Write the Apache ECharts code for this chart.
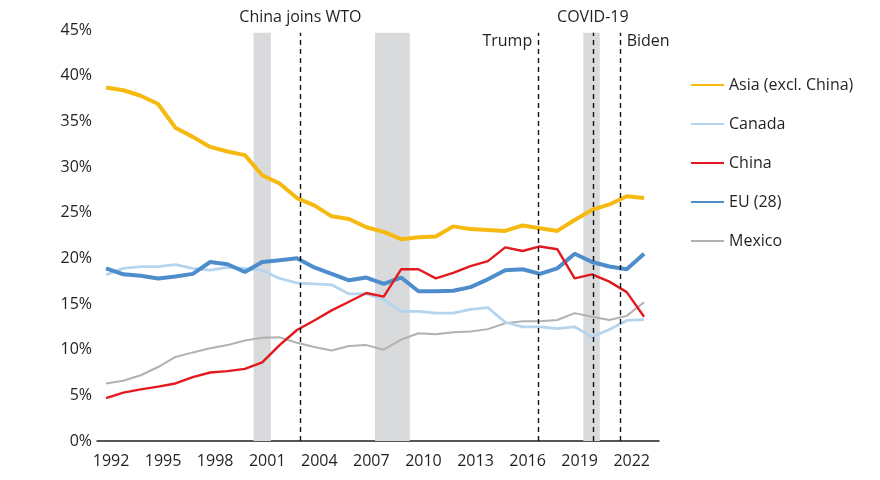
<!DOCTYPE html>
<html lang="en">
<head>
<meta charset="UTF-8">
<title>US import shares</title>
<style>html,body{margin:0;padding:0;background:#fff}</style>
</head>
<body>
<div id="chart" style="width:880px;height:480px"></div>
<script src="https://cdn.jsdelivr.net/npm/echarts@6/dist/echarts.min.js"></script>
<script>
var years = [1992, 1993, 1994, 1995, 1996, 1997, 1998, 1999, 2000, 2001, 2002, 2003,
             2004, 2005, 2006, 2007, 2008, 2009, 2010, 2011, 2012, 2013, 2014,
             2015, 2016, 2017, 2018, 2019, 2020, 2021, 2022, 2023];
var yearTicks = [1992, 1995, 1998, 2001, 2004, 2007, 2010, 2013, 2016, 2019, 2022];

var asia   = [38.7, 38.4, 37.8, 36.9, 34.3, 33.3, 32.2, 31.7, 31.3, 29.1, 28.2, 26.6,
              25.8, 24.6, 24.3, 23.4, 22.9, 22.1, 22.3, 22.4, 23.5, 23.2, 23.1,
              23.0, 23.6, 23.3, 23.0, 24.2, 25.3, 25.9, 26.8, 26.6];
var canada = [18.2, 18.9, 19.1, 19.1, 19.3, 18.9, 18.7, 19.0, 18.9, 18.7, 17.8, 17.3,
              17.2, 17.1, 16.1, 16.1, 15.5, 14.2, 14.2, 14.0, 14.0, 14.4, 14.6,
              13.0, 12.5, 12.5, 12.3, 12.5, 11.4, 12.2, 13.2, 13.3];
var china  = [4.7, 5.3, 5.65, 5.95, 6.3, 7.0, 7.5, 7.65, 7.9, 8.6, 10.5, 12.15,
              13.2, 14.3, 15.25, 16.2, 15.8, 18.8, 18.8, 17.8, 18.4, 19.15, 19.7,
              21.2, 20.8, 21.3, 21.0, 17.8, 18.25, 17.45, 16.3, 13.6];
var eu     = [18.9, 18.25, 18.1, 17.8, 18.0, 18.3, 19.6, 19.35, 18.5, 19.6, 19.8, 20.0,
              19.0, 18.3, 17.6, 17.9, 17.2, 17.9, 16.4, 16.4, 16.45, 16.85, 17.7,
              18.7, 18.8, 18.3, 18.9, 20.5, 19.6, 19.1, 18.8, 20.5];
var mexico = [6.3, 6.6, 7.2, 8.1, 9.2, 9.7, 10.15, 10.5, 11.0, 11.3, 11.35, 10.75,
              10.3, 9.9, 10.4, 10.5, 10.0, 11.1, 11.8, 11.7, 11.9, 12.0, 12.25,
              12.9, 13.1, 13.1, 13.25, 14.0, 13.6, 13.25, 13.7, 15.2];

// recession bands and event lines (years)
var recessions = [[2000.5, 2001.5], [2007.5, 2009.5], [2019.5, 2020.45]];
var events = [
    {name: 'China joins WTO', year: 2003.2, top: true},
    {name: 'Trump', year: 2016.9, side: 'left'},
    {name: 'COVID-19', year: 2020.05, top: true},
    {name: 'Biden', year: 2021.65, side: 'right'}
];

var FONT = 'Open Sans';
var TXT = '#231f20';

function pairs (vals) {
    var res = [];
    for (var i = 0; i < years.length; i++) {
        res.push([years[i], vals[i]]);
    }
    return res;
}

function line (name, vals, color, width) {
    return {
        name: name,
        type: 'line',
        data: pairs(vals),
        symbol: 'none',
        smooth: false,
        lineStyle: {color: color, width: width},
        itemStyle: {color: color},
        emphasis: {disabled: true}
    };
}

var chart = echarts.init(document.getElementById('chart'));

var mexicoSeries = line('Mexico', mexico, '#b1b1b1', 2);
mexicoSeries.markArea = {
    silent: true,
    itemStyle: {color: '#d9dadc'},
    data: recessions.map(function (r) {
        return [{xAxis: r[0], yAxis: 0}, {xAxis: r[1], yAxis: 44.7}];
    })
};
mexicoSeries.markLine = {
    silent: true,
    symbol: 'none',
    animation: false,
    lineStyle: {color: '#111', type: [5, 4], width: 1.4},
    data: events.map(function (e) {
        var lab = {
            show: !!e.top,
            position: 'end',
            distance: 7,
            formatter: e.name,
            fontFamily: FONT,
            fontSize: 16,
            color: TXT
        };
        return [{coord: [e.year, 0], label: lab}, {coord: [e.year, 44.7], label: lab}];
    })
};
mexicoSeries.markPoint = {
    silent: true,
    symbol: 'circle',
    symbolSize: 0,
    animation: false,
    data: events.filter(function (e) { return e.side; }).map(function (e) {
        return {
            coord: [e.year, 43.7],
            label: {
                show: true,
                position: e.side,
                distance: 6,
                formatter: e.name,
                fontFamily: FONT,
                fontSize: 16,
                color: TXT
            }
        };
    })
};

var option = {
    animation: false,
    backgroundColor: '#fff',
    textStyle: {fontFamily: FONT},
    grid: {left: 97, right: 221, top: 30, bottom: 39, containLabel: false},
    legend: {
        orient: 'vertical',
        left: 685,
        top: 72,
        itemWidth: 33,
        itemHeight: 14,
        itemGap: 23,
        itemStyle: {opacity: 0},
        data: ['Asia (excl. China)', 'Canada', 'China', 'EU (28)', 'Mexico'],
        textStyle: {fontFamily: FONT, fontSize: 16, color: TXT}
    },
    xAxis: {
        type: 'value',
        min: 1991.48,
        max: 2023.86,
        splitLine: {show: false},
        axisTick: {show: false},
        axisLine: {lineStyle: {color: '#231f20', width: 1.5}},
        axisLabel: {
            customValues: yearTicks,
            formatter: function (v) { return String(v); },
            margin: 12,
            padding: [0, 0, 0, 10],
            fontFamily: FONT,
            fontSize: 16,
            color: TXT
        }
    },
    yAxis: {
        type: 'value',
        min: 0,
        max: 45,
        interval: 5,
        splitLine: {show: false},
        axisLine: {show: false},
        axisTick: {show: false},
        axisLabel: {
            formatter: '{value}%',
            margin: 5,
            fontFamily: FONT,
            fontSize: 16,
            color: TXT
        }
    },
    series: [
        mexicoSeries,
        line('Canada', canada, '#b5d5ef', 2.8),
        line('EU (28)', eu, '#4d8dcc', 4),
        line('China', china, '#e2191f', 2.4),
        line('Asia (excl. China)', asia, '#f5b910', 4)
    ]
};

chart.setOption(option);
</script>
</body>
</html>
